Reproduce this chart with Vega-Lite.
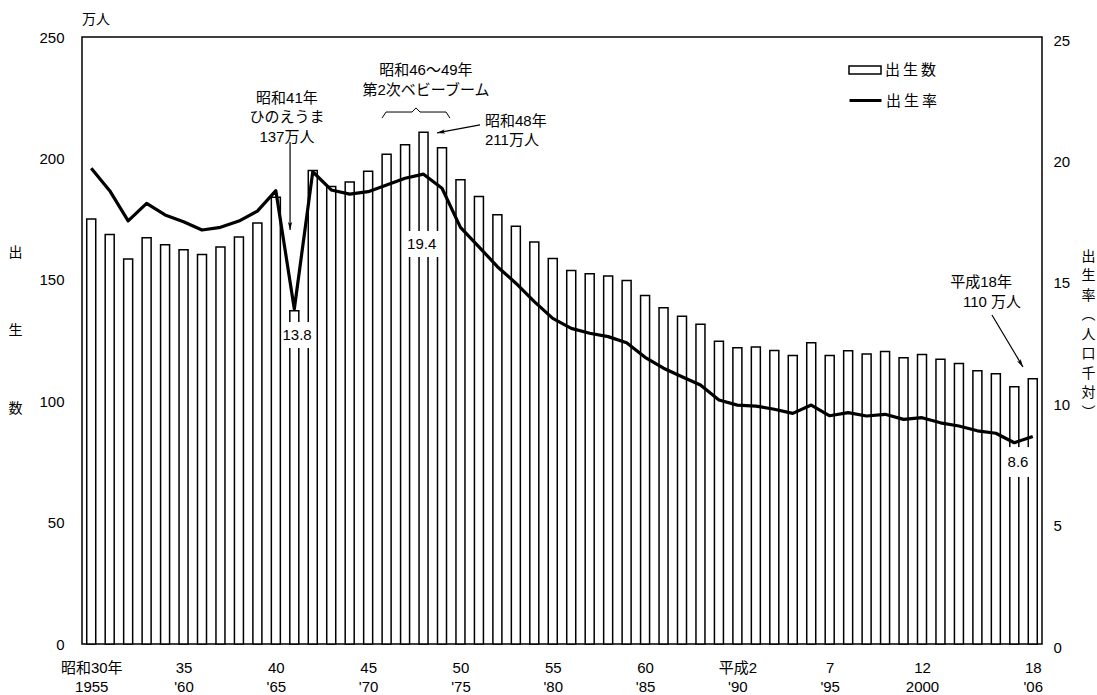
{
  "$schema": "https://vega.github.io/schema/vega-lite/v6.json",
  "width": 960,
  "height": 607,
  "autosize": "none",
  "padding": {"left": 82, "top": 37, "right": 55, "bottom": 51},
  "background": "white",
  "title": {"text": "万人", "anchor": "start", "frame": "group", "offset": 3, "fontSize": 14, "fontWeight": "normal", "font": "Noto Sans CJK JP", "color": "black"},
  "config": {
    "view": {"stroke": "black", "strokeWidth": 1.5},
    "axis": {"domain": false, "ticks": false, "grid": false, "labelFont": "Liberation Sans, Noto Sans CJK JP", "labelFontSize": 15, "labelColor": "black", "titleFont": "Noto Sans CJK JP", "titleFontSize": 14, "titleColor": "black", "titleFontWeight": "normal"},
    "legend": {"labelFont": "Noto Sans CJK JP", "labelFontSize": 15, "labelColor": "black"},
    "text": {"font": "Liberation Sans, Noto Sans CJK JP", "fontSize": 15, "color": "black"}
  },
  "datasets": {
    "main": [
      {"year": 1955, "births": 175.0, "rate": 19.59},
      {"year": 1956, "births": 168.7, "rate": 18.67},
      {"year": 1957, "births": 158.6, "rate": 17.43},
      {"year": 1958, "births": 167.3, "rate": 18.15},
      {"year": 1959, "births": 164.4, "rate": 17.67},
      {"year": 1960, "births": 162.4, "rate": 17.39},
      {"year": 1961, "births": 160.4, "rate": 17.05},
      {"year": 1962, "births": 163.5, "rate": 17.16},
      {"year": 1963, "births": 167.6, "rate": 17.42},
      {"year": 1964, "births": 173.4, "rate": 17.83},
      {"year": 1965, "births": 184.0, "rate": 18.67},
      {"year": 1966, "births": 137.3, "rate": 13.8},
      {"year": 1967, "births": 195.0, "rate": 19.45},
      {"year": 1968, "births": 188.4, "rate": 18.70},
      {"year": 1969, "births": 190.3, "rate": 18.53},
      {"year": 1970, "births": 194.7, "rate": 18.63},
      {"year": 1971, "births": 201.7, "rate": 18.90},
      {"year": 1972, "births": 205.6, "rate": 19.18},
      {"year": 1973, "births": 210.8, "rate": 19.35},
      {"year": 1974, "births": 204.4, "rate": 18.77},
      {"year": 1975, "births": 191.2, "rate": 17.16},
      {"year": 1976, "births": 184.3, "rate": 16.36},
      {"year": 1977, "births": 176.8, "rate": 15.54},
      {"year": 1978, "births": 172.1, "rate": 14.86},
      {"year": 1979, "births": 165.6, "rate": 14.10},
      {"year": 1980, "births": 158.8, "rate": 13.41},
      {"year": 1981, "births": 153.8, "rate": 13.00},
      {"year": 1982, "births": 152.5, "rate": 12.80},
      {"year": 1983, "births": 151.6, "rate": 12.66},
      {"year": 1984, "births": 149.7, "rate": 12.41},
      {"year": 1985, "births": 143.5, "rate": 11.81},
      {"year": 1986, "births": 138.5, "rate": 11.36},
      {"year": 1987, "births": 135.0, "rate": 11.01},
      {"year": 1988, "births": 131.7, "rate": 10.67},
      {"year": 1989, "births": 124.7, "rate": 10.05},
      {"year": 1990, "births": 122.0, "rate": 9.84},
      {"year": 1991, "births": 122.3, "rate": 9.80},
      {"year": 1992, "births": 120.9, "rate": 9.67},
      {"year": 1993, "births": 118.8, "rate": 9.50},
      {"year": 1994, "births": 124.1, "rate": 9.84},
      {"year": 1995, "births": 118.8, "rate": 9.40},
      {"year": 1996, "births": 120.8, "rate": 9.53},
      {"year": 1997, "births": 119.4, "rate": 9.39},
      {"year": 1998, "births": 120.5, "rate": 9.46},
      {"year": 1999, "births": 117.9, "rate": 9.25},
      {"year": 2000, "births": 119.2, "rate": 9.32},
      {"year": 2001, "births": 117.3, "rate": 9.11},
      {"year": 2002, "births": 115.5, "rate": 8.98},
      {"year": 2003, "births": 112.5, "rate": 8.78},
      {"year": 2004, "births": 111.3, "rate": 8.68},
      {"year": 2005, "births": 106.0, "rate": 8.29},
      {"year": 2006, "births": 109.2, "rate": 8.55}
    ],
    "boxes": [
      {"x1": 1965.35, "x2": 1966.95, "y1": 132.6, "y2": 121.9},
      {"x1": 1971.83, "x2": 1973.89, "y1": 170.1, "y2": 159.4},
      {"x1": 2004.5, "x2": 2006.01, "y1": 81.1, "y2": 68.8}
    ],
    "notesCenter": [
      {"x": 1965.6, "y": 224.9, "label": "昭和41年\nひのえうま\n137万人"},
      {"x": 1973.13, "y": 236.4, "label": "昭和46～49年\n第2次ベビーブーム"},
      {"x": 2003.2, "y": 149.1, "label": "平成18年"},
      {"x": 2003.79, "y": 140.9, "label": "110 万人"},
      {"x": 1966.15, "y": 127.3, "label": "13.8"},
      {"x": 1972.9, "y": 164.7, "label": "19.4"},
      {"x": 2005.2, "y": 75.1, "label": "8.6"}
    ],
    "notesLeft": [
      {"x": 1976.33, "y": 215.4, "label": "昭和48年\n211万人"}
    ],
    "arrows": [
      {"id": "a41", "x1": 1965.77, "y1": 206.8, "x2": 1965.77, "y2": 170.5},
      {"id": "a48", "x1": 1976.06, "y1": 213.8, "x2": 1973.73, "y2": 210.5},
      {"id": "a110", "x1": 2003.79, "y1": 135.5, "x2": 2005.47, "y2": 114.1}
    ],
    "brace": [
      {"x": 1970.75, "y": 216.6},
      {"x": 1970.97, "y": 219.1},
      {"x": 1972.38, "y": 219.1},
      {"x": 1972.59, "y": 220.8},
      {"x": 1972.81, "y": 219.1},
      {"x": 1974.22, "y": 219.1},
      {"x": 1974.43, "y": 216.6}
    ]
  },
  "resolve": {"scale": {"y": "independent"}},
  "layer": [
    {
      "data": {"name": "main"},
      "mark": {"type": "bar", "width": 9, "stroke": "black", "strokeWidth": 1.5},
      "encoding": {
        "x": {"field": "year", "type": "quantitative", "title": null,
          "scale": {"domain": [1954.5, 2006.5], "nice": false, "zero": false, "padding": 0},
          "axis": {"values": [1955, 1960, 1965, 1970, 1975, 1980, 1985, 1990, 1995, 2000, 2006], "title": null, "labelPadding": 16, "labelLineHeight": 19, "labelFontSize": 15,
            "labelExpr": "datum.value==1955?['昭和30年','1955']:datum.value==1960?['35',\"'60\"]:datum.value==1965?['40',\"'65\"]:datum.value==1970?['45',\"'70\"]:datum.value==1975?['50',\"'75\"]:datum.value==1980?['55',\"'80\"]:datum.value==1985?['60',\"'85\"]:datum.value==1990?['平成2',\"'90\"]:datum.value==1995?['7',\"'95\"]:datum.value==2000?['12','2000']:['18',\"'06\"]"}},
        "y": {"field": "births", "type": "quantitative",
          "scale": {"domain": [0, 250], "nice": false},
          "axis": {"values": [0, 50, 100, 150, 200, 250], "labelPadding": 18, "title": ["出", "生", "数"], "titleAngle": 0, "titleAlign": "center", "titleBaseline": "middle", "titleLineHeight": 78, "titleX": -67, "titleY": 215, "titleFontSize": 14}},
        "fill": {"datum": "出生数", "type": "nominal", "scale": {"range": ["white"]},
          "legend": {"title": null, "orient": "none", "legendX": 766, "legendY": 16, "symbolType": "M-1,-0.25H1V0.25H-1Z", "symbolSize": 1024, "symbolStrokeColor": "black", "symbolStrokeWidth": 1.5, "labelOffset": 3, "labelExpr": "'出\u2009生\u2009数'"}}
      }
    },
    {
      "data": {"name": "boxes"},
      "mark": {"type": "rect", "fill": "white", "strokeWidth": 0},
      "encoding": {
        "x": {"field": "x1", "type": "quantitative", "title": null, "scale": {"domain": [1954.5, 2006.5], "nice": false, "zero": false}},
        "x2": {"field": "x2"},
        "y": {"field": "y1", "type": "quantitative", "scale": {"domain": [0, 250], "nice": false}, "axis": null},
        "y2": {"field": "y2"}
      }
    },
    {
      "data": {"name": "main"},
      "mark": {"type": "line", "strokeWidth": 3.2, "strokeJoin": "round"},
      "encoding": {
        "x": {"field": "year", "type": "quantitative", "title": null, "scale": {"domain": [1954.5, 2006.5], "nice": false, "zero": false}},
        "y": {"field": "rate", "type": "quantitative",
          "scale": {"domain": [0, 25], "nice": false},
          "axis": {"orient": "right", "values": [0, 5, 10, 15, 20, 25], "labelPadding": 11, "labelOffset": 3, "title": ["出", "生", "率", "︵", "人", "口", "千", "対", "︶"], "titleAngle": 0, "titleAlign": "center", "titleBaseline": "middle", "titleLineHeight": 19.5, "titleX": 46, "titleY": 219, "titleFontSize": 14}},
        "stroke": {"datum": "出生率", "type": "nominal", "scale": {"range": ["black"]},
          "legend": {"title": null, "orient": "none", "legendX": 766, "legendY": 46, "symbolType": "stroke", "symbolSize": 1024, "symbolStrokeWidth": 3, "labelOffset": 3, "labelExpr": "'出\u2009生\u2009率'"}}
      }
    },
    {
      "data": {"name": "brace"},
      "mark": {"type": "line", "stroke": "black", "strokeWidth": 1},
      "encoding": {
        "x": {"field": "x", "type": "quantitative", "title": null, "scale": {"domain": [1954.5, 2006.5], "nice": false, "zero": false}},
        "y": {"field": "y", "type": "quantitative", "scale": {"domain": [0, 250], "nice": false}, "axis": null}
      }
    },
    {
      "data": {"name": "arrows"},
      "mark": {"type": "rule", "stroke": "black", "strokeWidth": 1.2},
      "encoding": {
        "x": {"field": "x1", "type": "quantitative", "title": null, "scale": {"domain": [1954.5, 2006.5], "nice": false, "zero": false}},
        "x2": {"field": "x2"},
        "y": {"field": "y1", "type": "quantitative", "scale": {"domain": [0, 250], "nice": false}, "axis": null},
        "y2": {"field": "y2"}
      }
    },
    {
      "data": {"name": "arrows"},
      "transform": [{"filter": "datum.id == 'a41'"}],
      "mark": {"type": "point", "shape": "M0,0L-0.45,1.7L0,1.3L0.45,1.7Z", "size": 90, "filled": true, "color": "black", "opacity": 1, "angle": 180},
      "encoding": {
        "x": {"field": "x2", "type": "quantitative", "title": null, "scale": {"domain": [1954.5, 2006.5], "nice": false, "zero": false}},
        "y": {"field": "y2", "type": "quantitative", "scale": {"domain": [0, 250], "nice": false}, "axis": null}
      }
    },
    {
      "data": {"name": "arrows"},
      "transform": [{"filter": "datum.id == 'a48'"}],
      "mark": {"type": "point", "shape": "M0,0L-0.45,1.7L0,1.3L0.45,1.7Z", "size": 90, "filled": true, "color": "black", "opacity": 1, "angle": 259.5},
      "encoding": {
        "x": {"field": "x2", "type": "quantitative", "title": null, "scale": {"domain": [1954.5, 2006.5], "nice": false, "zero": false}},
        "y": {"field": "y2", "type": "quantitative", "scale": {"domain": [0, 250], "nice": false}, "axis": null}
      }
    },
    {
      "data": {"name": "arrows"},
      "transform": [{"filter": "datum.id == 'a110'"}],
      "mark": {"type": "point", "shape": "M0,0L-0.45,1.7L0,1.3L0.45,1.7Z", "size": 90, "filled": true, "color": "black", "opacity": 1, "angle": 149},
      "encoding": {
        "x": {"field": "x2", "type": "quantitative", "title": null, "scale": {"domain": [1954.5, 2006.5], "nice": false, "zero": false}},
        "y": {"field": "y2", "type": "quantitative", "scale": {"domain": [0, 250], "nice": false}, "axis": null}
      }
    },
    {
      "data": {"name": "notesCenter"},
      "mark": {"type": "text", "align": "center", "baseline": "middle", "lineBreak": "\n", "lineHeight": 19.5},
      "encoding": {
        "x": {"field": "x", "type": "quantitative", "title": null, "scale": {"domain": [1954.5, 2006.5], "nice": false, "zero": false}},
        "y": {"field": "y", "type": "quantitative", "scale": {"domain": [0, 250], "nice": false}, "axis": null},
        "text": {"field": "label"}
      }
    },
    {
      "data": {"name": "notesLeft"},
      "mark": {"type": "text", "align": "left", "baseline": "middle", "lineBreak": "\n", "lineHeight": 19},
      "encoding": {
        "x": {"field": "x", "type": "quantitative", "title": null, "scale": {"domain": [1954.5, 2006.5], "nice": false, "zero": false}},
        "y": {"field": "y", "type": "quantitative", "scale": {"domain": [0, 250], "nice": false}, "axis": null},
        "text": {"field": "label"}
      }
    }
  ]
}
